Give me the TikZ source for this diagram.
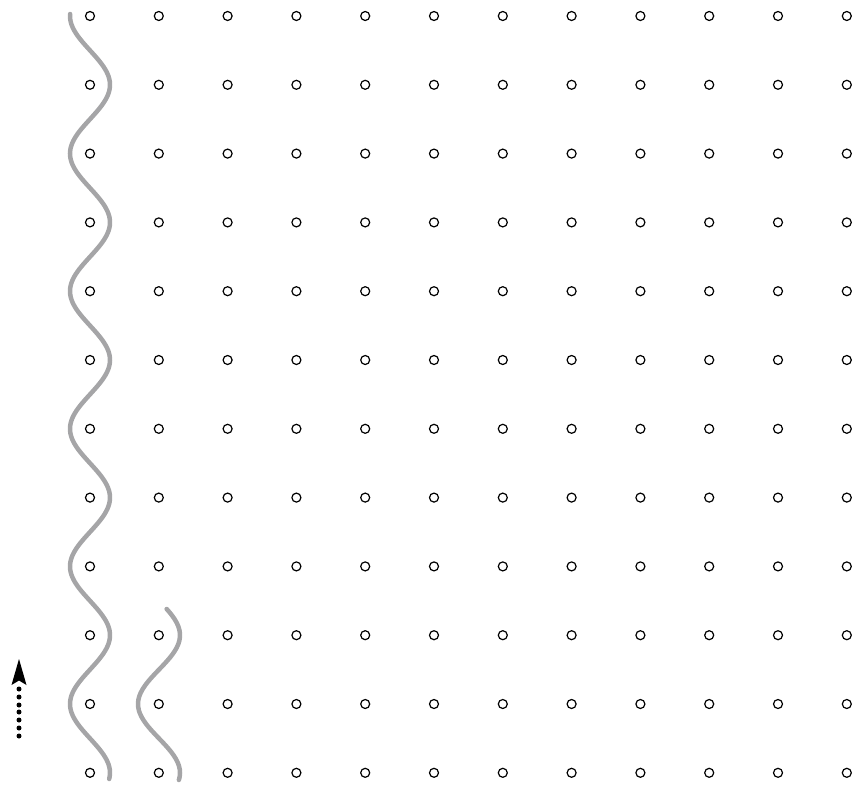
\documentclass[tikz,border=0pt]{standalone}
\begin{document}
\begin{tikzpicture}[x=1pt,y=-1pt,
  gridpt/.style={circle,draw=black,line width=1.2pt,minimum size=9pt,inner sep=0pt,outer sep=0pt},
  wave/.style={draw=wavegray,line width=4.5pt,line cap=round},
  arrowdot/.style={fill=black,draw=none}]
\definecolor{wavegray}{RGB}{165,165,167}
\useasboundingbox (0,0) rectangle (862,787);
% grid of circles
\foreach \i in {0,...,11}{
  \foreach \j in {0,...,11}{
    \node[gridpt] (c\i-\j) at ({90+68.8*\i},{16+68.8*\j}) {};
  }
}
% long wave
\draw[wave] plot[smooth,domain=14:779,samples=160] ({90-20*cos(2.61628*(\x-16))},\x);
% short wave
\draw[wave] plot[smooth,domain=609:780,samples=50] ({159-21*cos(2.61628*(\x-16))},\x);
% dotted arrow
\coordinate (tip) at (19,659);
\foreach \y in {689,697,705,712,720,728,736}{
  \fill[arrowdot] (19,\y) circle (2.5);
}
\fill[arrowdot,line join=round] (tip) -- (26.5,685) -- (19,680.5) -- (11.5,685) -- cycle;
\end{tikzpicture}
\end{document}
